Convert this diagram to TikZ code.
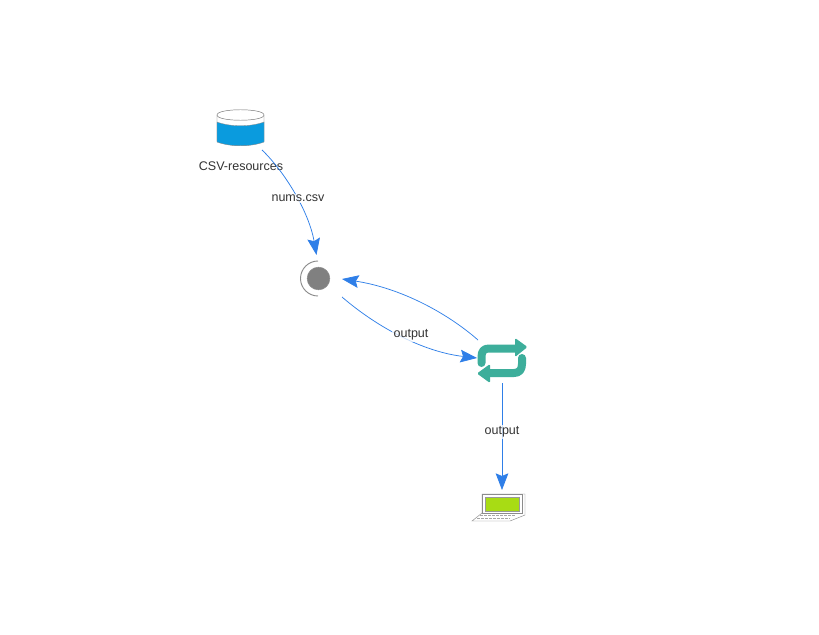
\documentclass[tikz,border=0pt]{standalone}
\usepackage{fontspec}
\setmainfont{Liberation Sans}
\usetikzlibrary{arrows.meta}
\definecolor{flow}{HTML}{2F7FE8}
\definecolor{dbblue}{HTML}{0A9BDE}
\definecolor{loopgreen}{HTML}{3DAE9B}
\definecolor{lime}{HTML}{A8DC14}
\definecolor{labelgray}{HTML}{333333}
\tikzset{
  x=0.75pt,y=-0.75pt,
  flowline/.style={draw=flow,line width=0.55pt,-{Stealth[length=12.5pt,width=9.5pt,inset=2pt]}},
  lbl/.style={font=\fontsize{9.4pt}{11pt}\selectfont,text=labelgray,inner sep=1pt},
  hub/.style={circle,fill=black!50,draw=black!45,minimum size=17pt,inner sep=0pt},
  anchorpt/.style={inner sep=0pt,minimum size=0pt},
}
\begin{document}
\begin{tikzpicture}
\useasboundingbox (0,0) rectangle (819,635);
\fill[white] (0,0) rectangle (819,635);
% database
\path[fill=white,draw=black!55,line width=0.35pt] (217,115) .. controls (217,108) and (264,108) .. (264,115) -- (264,141) .. controls (251,147) and (230,147) .. (217,141) -- cycle;
\path[fill=dbblue,draw=black!45,line width=0.25pt] (217,122) .. controls (230,127) and (251,127) .. (264,122) -- (264,142) .. controls (251,147) and (230,147) .. (217,142) -- cycle;
\draw[black!55,line width=0.35pt] (217,115) .. controls (217,122) and (264,122) .. (264,115);
\node[anchorpt,minimum width=35pt,minimum height=28pt] (db) at (240.5,128) {};
\node[lbl] (dblabel) at (241,166.5) {CSV-resources};
% hub
\node[hub] (hubc) at (318.5,278.5) {};
\draw[black!45,line width=0.7pt] (318,261) arc[start angle=-90,end angle=-270,radius=17.5];
% loop icon
\draw[loopgreen,line width=6pt,line cap=round,line join=round] (481.5,363) -- (481.5,357) .. controls (481.5,351) and (484,348.5) .. (489,348.5) -- (517,348.5);
\fill[loopgreen,rounded corners=1pt] (515,338) -- (527.5,347) -- (515,357) -- cycle;
\draw[loopgreen,line width=6pt,line cap=round,line join=round] (522,358) -- (522,364) .. controls (522,370) and (519,373) .. (514,373) -- (486,373);
\fill[loopgreen,rounded corners=1pt] (490,364) -- (477,373.5) -- (490,383) -- cycle;
\node[anchorpt,minimum width=37pt,minimum height=34pt] (loopn) at (502,361) {};
% laptop
\draw[black!45,fill=white,line width=0.35pt] (482,494) -- (525,494) -- (525,515) -- (510,521) -- (472,521) -- (482,513) -- cycle;
\draw[black!45,fill=white,line width=0.35pt] (482,494) -- (522,494) -- (522,513) -- (482,513) -- cycle;
\path[fill=lime,draw=black!40,line width=0.3pt] (485,497) rectangle (519,511);
\draw[black!35,line width=0.5pt,dash pattern=on 2pt off 1pt] (480,515.5) -- (515,515.5);
\draw[black!35,line width=0.5pt,dash pattern=on 2pt off 1pt] (477,518) -- (510,518);
\node[anchorpt,minimum width=38pt,minimum height=21pt] (laptop) at (498.5,507.5) {};
% free ends of the connectors
\coordinate (a1) at (262,150);
\coordinate (a2) at (316.5,255);
\coordinate (b1) at (478,340);
\coordinate (b2) at (342,279);
\coordinate (c1) at (342,297);
\coordinate (c2) at (477,358);
\coordinate (d1) at (502,383);
\coordinate (d2) at (502,490);
\draw[flowline] (a1) .. controls (285,172) and (309,212) .. (a2);
\draw[flowline] (b1) .. controls (446,312) and (400,288) .. (b2);
\draw[flowline] (c1) .. controls (378,328) and (424,352) .. (c2);
\draw[flowline] (d1) -- (d2);
% labels
\node[lbl,fill=white,fill opacity=0.75,text opacity=1] (l1) at (298,198.5) {nums.csv};
\node[lbl,fill=white,fill opacity=0.75,text opacity=1] (l2) at (411,335) {output};
\node[lbl,fill=white,fill opacity=0.75,text opacity=1] (l3) at (502,432) {output};
\end{tikzpicture}
\end{document}
